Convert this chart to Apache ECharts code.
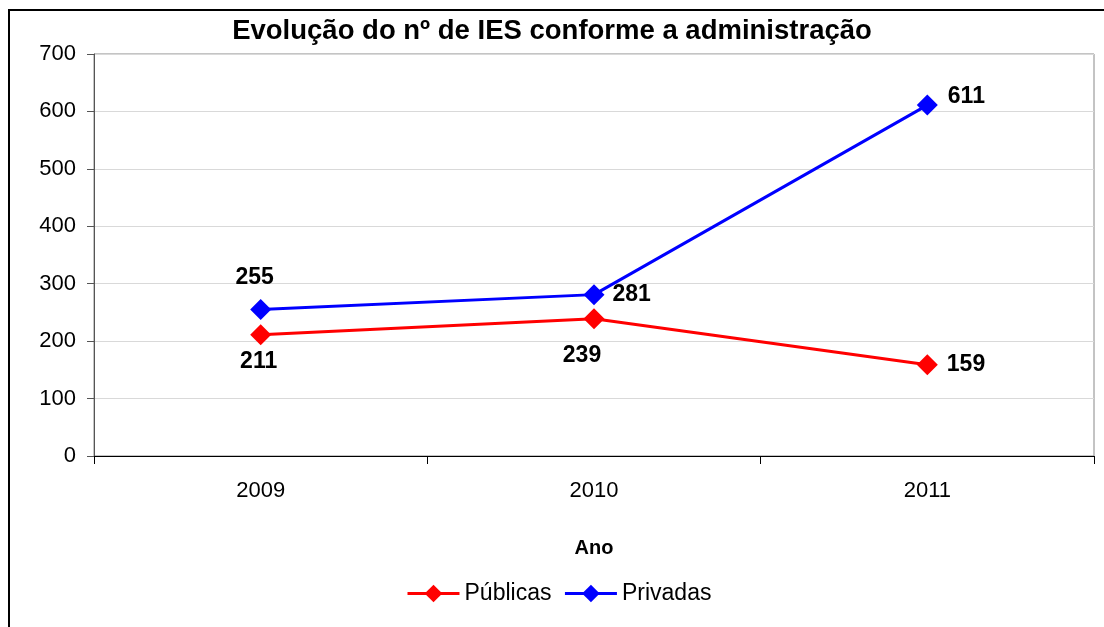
<!DOCTYPE html>
<html>
<head>
<meta charset="utf-8">
<script src="https://cdn.jsdelivr.net/npm/echarts@6/dist/echarts.min.js"></script>
<style>
  html, body { margin: 0; padding: 0; background: #fff; }
  #main { width: 1104px; height: 627px; }
</style>
</head>
<body>
<div id="main"></div>
<script>
var anos = ['2009', '2010', '2011'];
var publicas = [211, 239, 159];
var privadas = [255, 281, 611];

// onde fica o rótulo de cada ponto
var rotPublicas = [
    { position: 'bottom', distance: 5, offset: [-2, 0] },
    { position: 'bottom', distance: 15, offset: [-12, 0] },
    { position: 'right', distance: 9, offset: [0, 0] }
];
var rotPrivadas = [
    { position: 'top', distance: 10, offset: [-6, 0] },
    { position: 'right', distance: 8, offset: [0, 0] },
    { position: 'right', distance: 10, offset: [0, -8] }
];

function comRotulos(valores, rotulos) {
    var out = [];
    for (var i = 0; i < valores.length; i++) {
        out.push({ value: valores[i], label: rotulos[i] });
    }
    return out;
}

var rotulo = {
    show: true,
    fontFamily: 'Liberation Sans',
    fontWeight: 'bold',
    fontSize: 23,
    color: '#000'
};

var myChart = echarts.init(document.getElementById('main'));
var option = {
    animation: false,
    backgroundColor: '#fff',
    textStyle: { fontFamily: 'Liberation Sans' },
    graphic: [{
        type: 'rect',
        shape: { x: 9, y: 10, width: 1200, height: 700 },
        style: { fill: 'none', stroke: '#000', lineWidth: 2 },
        silent: true
    }],
    title: {
        text: 'Evolução do nº de IES conforme a administração',
        left: 'center',
        top: 12,
        textStyle: { fontFamily: 'Liberation Sans', fontWeight: 'bold', fontSize: 27.5, color: '#000' }
    },
    grid: {
        left: 94, right: 10, top: 54, bottom: 171,
        show: true, borderColor: '#888', borderWidth: 1
    },
    legend: {
        bottom: 17,
        left: 401,
        itemWidth: 52,
        itemHeight: 22,
        itemGap: 12,
        lineStyle: { width: 3 },
        textStyle: { fontFamily: 'Liberation Sans', fontSize: 23, color: '#000' },
        data: ['Públicas', 'Privadas']
    },
    xAxis: {
        type: 'category',
        data: anos,
        boundaryGap: true,
        name: 'Ano',
        nameLocation: 'middle',
        nameGap: 82,
        nameTextStyle: { fontFamily: 'Liberation Sans', fontWeight: 'bold', fontSize: 20, color: '#000' },
        axisLine: { lineStyle: { color: '#000', width: 1 } },
        axisTick: { show: true, length: 8, lineStyle: { color: '#000' } },
        axisLabel: { fontFamily: 'Liberation Sans', fontSize: 22, color: '#000', margin: 24 }
    },
    yAxis: {
        type: 'value',
        min: 0, max: 700, interval: 100,
        axisLine: { show: true, lineStyle: { color: '#555', width: 1 } },
        axisTick: { show: true, length: 7, lineStyle: { color: '#555' } },
        axisLabel: { fontFamily: 'Liberation Sans', fontSize: 22, color: '#000', margin: 18 },
        splitLine: { lineStyle: { color: '#d9d9d9', width: 1 } }
    },
    series: [
        {
            name: 'Públicas',
            type: 'line',
            data: comRotulos(publicas, rotPublicas),
            color: '#ff0000',
            symbol: 'diamond',
            symbolSize: 21,
            lineStyle: { width: 3, color: '#ff0000' },
            itemStyle: { color: '#ff0000' },
            label: rotulo
        },
        {
            name: 'Privadas',
            type: 'line',
            data: comRotulos(privadas, rotPrivadas),
            color: '#0000ff',
            symbol: 'diamond',
            symbolSize: 21,
            lineStyle: { width: 3, color: '#0000ff' },
            itemStyle: { color: '#0000ff' },
            label: rotulo
        }
    ]
};
myChart.setOption(option);
</script>
</body>
</html>
